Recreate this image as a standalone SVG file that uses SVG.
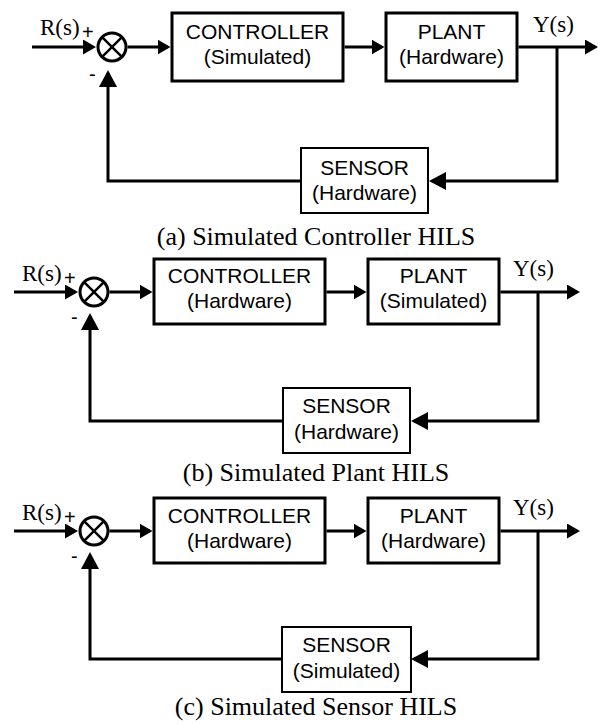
<svg xmlns="http://www.w3.org/2000/svg" width="598" height="724" viewBox="0 0 598 724">
<style>
.box{fill:#fff;stroke:#000;stroke-width:3}
.sbox{fill:#fff;stroke:#000;stroke-width:2}
.sum{fill:#fff;stroke:#000;stroke-width:3}
.x{stroke:#000;stroke-width:2.5}
.ln{fill:none;stroke:#000;stroke-width:3}
.fw{marker-end:url(#as)}
.fb{marker-end:url(#ab)}
.t{font-family:"Liberation Sans",Arial,sans-serif;font-size:21px;text-anchor:middle;fill:#000}
.sig{font-family:"Liberation Serif","Times New Roman",serif;font-size:23px;fill:#000}
.pm{font-family:"Liberation Sans",Arial,sans-serif;font-size:20px;fill:#000}
.cap{font-family:"Liberation Serif","Times New Roman",serif;font-size:26px;text-anchor:middle;fill:#000}
</style>
<defs>
<marker id="as" viewBox="0 0 13 15" refX="10" refY="7.5" markerWidth="13" markerHeight="15" markerUnits="userSpaceOnUse" orient="auto"><path d="M0,0L13,7.5L0,15z" fill="#000"/></marker>
<marker id="ab" viewBox="0 0 17 18" refX="14" refY="9" markerWidth="17" markerHeight="18" markerUnits="userSpaceOnUse" orient="auto"><path d="M0,0L17,9L0,18z" fill="#000"/></marker>
</defs>

<g id="connectors">
<!-- panel a -->
<path class="ln fw" d="M32,47H93"/>
<path class="ln fw" d="M127.5,47H167.5"/>
<path class="ln fw" d="M344.5,47H381.5"/>
<path class="ln fw" d="M518.5,47H595"/>
<path class="ln fb" d="M557,47V181H432"/>
<path class="ln fb" d="M301,181H108V73"/>
<!-- panel b -->
<path class="ln fw" d="M14,292H75"/>
<path class="ln fw" d="M109.5,292H149.5"/>
<path class="ln fw" d="M326.5,292H363.5"/>
<path class="ln fw" d="M500.5,292H577"/>
<path class="ln fb" d="M538,292V421H414"/>
<path class="ln fb" d="M283,421H90V316"/>
<!-- panel c -->
<path class="ln fw" d="M14,531H75"/>
<path class="ln fw" d="M109.5,531H149.5"/>
<path class="ln fw" d="M326.5,531H363.5"/>
<path class="ln fw" d="M500.5,531H577"/>
<path class="ln fb" d="M538,531V659H414"/>
<path class="ln fb" d="M282,659H90V555"/>
</g>

<g id="labels">
<text class="sig" x="40" y="35">R(s)</text><text class="pm" x="82" y="39">+</text>
<text class="pm" x="89" y="81">-</text>
<text class="sig" x="533" y="32">Y(s)</text>
<text class="sig" x="22" y="281">R(s)</text><text class="pm" x="64" y="285">+</text>
<text class="pm" x="71" y="324">-</text>
<text class="sig" x="513" y="276">Y(s)</text>
<text class="sig" x="22" y="520">R(s)</text><text class="pm" x="64" y="524">+</text>
<text class="pm" x="71" y="563">-</text>
<text class="sig" x="513" y="515">Y(s)</text>
</g>

<!-- panel a nodes -->
<g id="sum-a"><circle class="sum" cx="112" cy="47" r="14"/><path class="x" d="M102.1,37.1L121.9,56.9M121.9,37.1L102.1,56.9"/></g>
<g id="controller-a"><rect class="box" x="172" y="13" width="171" height="68"/><text class="t" x="257.5" y="39">CONTROLLER</text><text class="t" x="257.5" y="64">(Simulated)</text></g>
<g id="plant-a"><rect class="box" x="386" y="13" width="131" height="68"/><text class="t" x="451.5" y="39">PLANT</text><text class="t" x="451.5" y="64">(Hardware)</text></g>
<g id="sensor-a"><rect class="sbox" x="301" y="148" width="127" height="65"/><text class="t" x="364.5" y="175">SENSOR</text><text class="t" x="364.5" y="200">(Hardware)</text></g>
<text class="cap" x="316" y="245">(a) Simulated Controller HILS</text>

<!-- panel b nodes -->
<g id="sum-b"><circle class="sum" cx="94" cy="292" r="14"/><path class="x" d="M84.1,282.1L103.9,301.9M103.9,282.1L84.1,301.9"/></g>
<g id="controller-b"><rect class="box" x="154" y="259" width="171" height="65"/><text class="t" x="239.5" y="283">CONTROLLER</text><text class="t" x="239.5" y="308">(Hardware)</text></g>
<g id="plant-b"><rect class="box" x="368" y="259" width="131" height="65"/><text class="t" x="433.5" y="283">PLANT</text><text class="t" x="433.5" y="308">(Simulated)</text></g>
<g id="sensor-b"><rect class="sbox" x="283" y="388" width="127" height="65"/><text class="t" x="346.5" y="413">SENSOR</text><text class="t" x="346.5" y="439">(Hardware)</text></g>
<text class="cap" x="316" y="481">(b) Simulated Plant HILS</text>

<!-- panel c nodes -->
<g id="sum-c"><circle class="sum" cx="94" cy="531" r="14"/><path class="x" d="M84.1,521.1L103.9,540.9M103.9,521.1L84.1,540.9"/></g>
<g id="controller-c"><rect class="box" x="154" y="498" width="171" height="65"/><text class="t" x="239.5" y="523">CONTROLLER</text><text class="t" x="239.5" y="548">(Hardware)</text></g>
<g id="plant-c"><rect class="box" x="368" y="498" width="131" height="65"/><text class="t" x="433.5" y="523">PLANT</text><text class="t" x="433.5" y="548">(Hardware)</text></g>
<g id="sensor-c"><rect class="sbox" x="282" y="627" width="129" height="65"/><text class="t" x="346.5" y="652">SENSOR</text><text class="t" x="346.5" y="678">(Simulated)</text></g>
<text class="cap" x="316" y="715">(c) Simulated Sensor HILS</text>
</svg>
